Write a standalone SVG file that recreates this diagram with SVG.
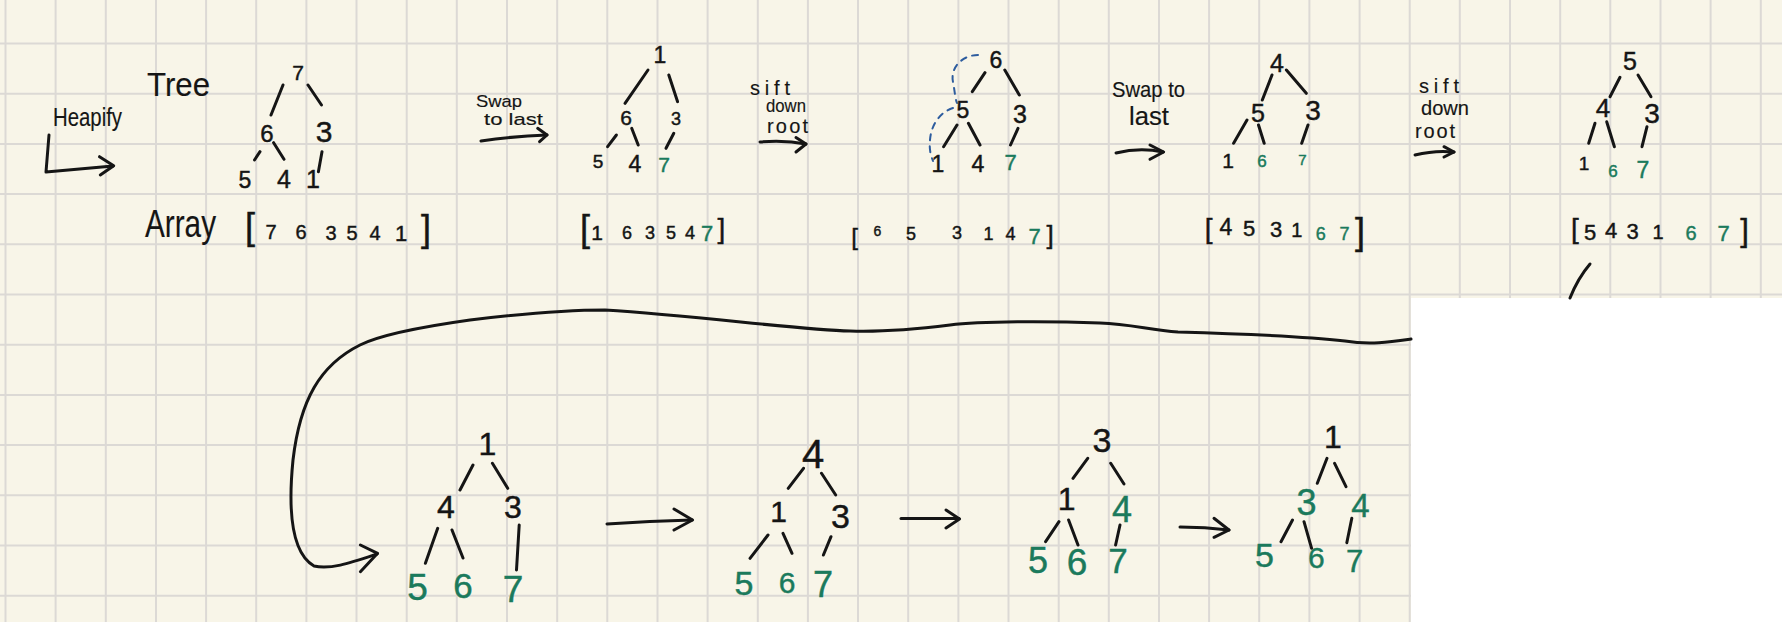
<svg xmlns="http://www.w3.org/2000/svg" width="1787" height="622" viewBox="0 0 1787 622">
<defs>
<style>
.bg{fill:#f8f5e8}
.grid line{stroke:#dcd9d5;stroke-width:2}
text{font-family:"Liberation Sans","DejaVu Sans",sans-serif;fill:#151515;stroke:#151515;stroke-width:0.45}
.lbl text{stroke-width:0.15}
.n{text-anchor:middle}
.g{fill:#1b7a5c;stroke:#1b7a5c}
.e{stroke:#151515;stroke-width:3;stroke-linecap:round;fill:none}
.c{stroke:#151515;stroke-width:3;stroke-linecap:round;stroke-linejoin:round;fill:none}
.d{stroke:#2d5c9e;stroke-width:2;stroke-dasharray:6 6;fill:none;stroke-linecap:round}
</style>
</defs>
<rect class="bg" x="0" y="0" width="1787" height="622"/>
<g class="grid">
<line x1="5.5" y1="0" x2="5.5" y2="622"/><line x1="55.6" y1="0" x2="55.6" y2="622"/><line x1="105.8" y1="0" x2="105.8" y2="622"/><line x1="156" y1="0" x2="156" y2="622"/><line x1="206.1" y1="0" x2="206.1" y2="622"/><line x1="256.2" y1="0" x2="256.2" y2="622"/><line x1="306.4" y1="0" x2="306.4" y2="622"/><line x1="356.5" y1="0" x2="356.5" y2="622"/><line x1="406.7" y1="0" x2="406.7" y2="622"/><line x1="456.8" y1="0" x2="456.8" y2="622"/><line x1="507" y1="0" x2="507" y2="622"/><line x1="557.2" y1="0" x2="557.2" y2="622"/><line x1="607.3" y1="0" x2="607.3" y2="622"/><line x1="657.5" y1="0" x2="657.5" y2="622"/><line x1="707.6" y1="0" x2="707.6" y2="622"/><line x1="757.8" y1="0" x2="757.8" y2="622"/><line x1="807.9" y1="0" x2="807.9" y2="622"/><line x1="858" y1="0" x2="858" y2="622"/><line x1="908.2" y1="0" x2="908.2" y2="622"/><line x1="958.4" y1="0" x2="958.4" y2="622"/><line x1="1008.5" y1="0" x2="1008.5" y2="622"/><line x1="1058.7" y1="0" x2="1058.7" y2="622"/><line x1="1108.8" y1="0" x2="1108.8" y2="622"/><line x1="1159" y1="0" x2="1159" y2="622"/><line x1="1209.1" y1="0" x2="1209.1" y2="622"/><line x1="1259.2" y1="0" x2="1259.2" y2="622"/><line x1="1309.4" y1="0" x2="1309.4" y2="622"/><line x1="1359.6" y1="0" x2="1359.6" y2="622"/><line x1="1409.7" y1="0" x2="1409.7" y2="622"/><line x1="1459.8" y1="0" x2="1459.8" y2="622"/><line x1="1510" y1="0" x2="1510" y2="622"/><line x1="1560.2" y1="0" x2="1560.2" y2="622"/><line x1="1610.3" y1="0" x2="1610.3" y2="622"/><line x1="1660.5" y1="0" x2="1660.5" y2="622"/><line x1="1710.6" y1="0" x2="1710.6" y2="622"/><line x1="1760.8" y1="0" x2="1760.8" y2="622"/>
<line x1="0" y1="43.5" x2="1787" y2="43.5"/><line x1="0" y1="93.7" x2="1787" y2="93.7"/><line x1="0" y1="143.9" x2="1787" y2="143.9"/><line x1="0" y1="194.1" x2="1787" y2="194.1"/><line x1="0" y1="244.3" x2="1787" y2="244.3"/><line x1="0" y1="294.5" x2="1787" y2="294.5"/><line x1="0" y1="344.7" x2="1787" y2="344.7"/><line x1="0" y1="394.9" x2="1787" y2="394.9"/><line x1="0" y1="445.1" x2="1787" y2="445.1"/><line x1="0" y1="495.3" x2="1787" y2="495.3"/><line x1="0" y1="545.5" x2="1787" y2="545.5"/><line x1="0" y1="595.7" x2="1787" y2="595.7"/>
</g>
<rect x="1411" y="298" width="376" height="324" fill="#ffffff"/>
<rect x="1782" y="0" width="5" height="298" fill="#ffffff"/>

<g id="connectors">
<path class="c" d="M49,135 L46,172 L113,166"/>
<path class="c" d="M99.5,156.7 L113.7,165.7 L100.3,175"/>
<path class="c" d="M481,141 Q515,136 547,135"/>
<path class="c" d="M537.7,128.3 L547,135 L539.6,141.7"/>
<path class="c" d="M760,142 Q785,140 806,144"/>
<path class="c" d="M796,137.5 L806,144 L796,152"/>
<path class="c" d="M1116,153 Q1140,147 1163,152"/>
<path class="c" d="M1150,145 L1163.6,152 L1150,159.3"/>
<path class="c" d="M1415,155 Q1435,150 1454,152"/>
<path class="c" d="M1444,146.7 L1454,152 L1444,157"/>
<path class="c" d="M1590,264 Q1578,278 1570,298"/>
<path class="c" d="M1411,339 C1390,342 1370,345 1345,341 C1300,336 1250,334 1178,332 C1150,330 1130,324 1100,323 C1050,321 980,321 950,325 C910,330 880,332 850,331 C800,330 700,316 605,310 C560,310 520,314 470,320 C420,327 380,335 360,345 C320,365 300,400 293,460 C287,520 295,555 314,566 C330,570 350,563 377,554"/>
<path class="c" d="M360.4,545 L377.6,553.3 L360.4,571.7"/>
<path class="c" d="M607,524 Q650,521 692,520"/>
<path class="c" d="M674,509 L692.5,520 L674,530"/>
<path class="c" d="M901,518.5 L959,518.5"/>
<path class="c" d="M946,510 L959.5,519 L946,528"/>
<path class="c" d="M1180,527 Q1205,527 1229,530"/>
<path class="c" d="M1214,518.3 L1229,530 L1214,537.3"/>
<path class="d" d="M978,55 C962,55 950,68 953,82 C955,92 955,98 957,103"/>
<path class="d" d="M953,108 C940,112 931,125 930,140 C929,150 931,156 933,161"/>
</g>

<g class="lbl">
<g id="label-heapify"><text x="53" y="126" font-size="25" textLength="69" lengthAdjust="spacingAndGlyphs">Heapify</text></g>
<g id="label-tree"><text x="147" y="96" font-size="34" textLength="63" lengthAdjust="spacingAndGlyphs">Tree</text></g>
<g id="label-array"><text x="145" y="237" font-size="38" textLength="71" lengthAdjust="spacingAndGlyphs">Array</text></g>
<g id="label-swap1"><text x="476" y="107" font-size="17" textLength="46" lengthAdjust="spacingAndGlyphs">Swap</text><text x="484" y="125" font-size="17" textLength="59" lengthAdjust="spacingAndGlyphs">to last</text></g>
<g id="label-sift1"><text x="750" y="95" font-size="20" textLength="40" lengthAdjust="spacing">sift</text><text x="766" y="112" font-size="18" textLength="40" lengthAdjust="spacingAndGlyphs">down</text><text x="767" y="133" font-size="20" textLength="41" lengthAdjust="spacing">root</text></g>
<g id="label-swap2"><text x="1112" y="97" font-size="22" textLength="73" lengthAdjust="spacingAndGlyphs">Swap to</text><text x="1129" y="125" font-size="26" textLength="40" lengthAdjust="spacingAndGlyphs">last</text></g>
<g id="label-sift2"><text x="1419" y="93" font-size="20" textLength="40" lengthAdjust="spacing">sift</text><text x="1421" y="115" font-size="20" textLength="48" lengthAdjust="spacingAndGlyphs">down</text><text x="1415" y="138" font-size="20" textLength="40" lengthAdjust="spacing">root</text></g>
</g>

<g id="tree1">
<path class="e" d="M283,85 L271,115 M308,85 L321.5,105 M260,151.7 L254.5,160 M273.6,142.7 L284,159.3 M322,151.7 L318.4,171.7"/>
<text class="n" x="298" y="80" font-size="21">7</text>
<text class="n" x="267" y="141.7" font-size="24">6</text>
<text class="n" x="324" y="141.7" font-size="30">3</text>
<text class="n" x="245" y="188" font-size="23">5</text>
<text class="n" x="284" y="188" font-size="25">4</text>
<text class="n" x="313" y="188" font-size="25">1</text>
</g>
<g id="array1">
<text class="n" x="250" y="239" font-size="36">[</text>
<text class="n" x="271" y="239" font-size="20">7</text>
<text class="n" x="301" y="239" font-size="20">6</text>
<text class="n" x="331" y="240" font-size="20">3</text>
<text class="n" x="352" y="240" font-size="20">5</text>
<text class="n" x="375" y="240" font-size="20">4</text>
<text class="n" x="401" y="241" font-size="22">1</text>
<text class="n" x="426" y="241" font-size="36">]</text>
</g>

<g id="tree2">
<path class="e" d="M648,70 L625,103.3 M668.8,75 L677.6,101.7 M616.4,135 L607.6,146.7 M631.7,128.3 L638.2,145 M673.8,133.3 L666,148.3"/>
<text class="n" x="660" y="63" font-size="23">1</text>
<text class="n" x="626" y="125" font-size="21">6</text>
<text class="n" x="676" y="125" font-size="18">3</text>
<text class="n" x="598" y="168" font-size="19">5</text>
<text class="n" x="635" y="171.7" font-size="23">4</text>
<text class="n g" x="664" y="171.7" font-size="21">7</text>
</g>
<g id="array2">
<text class="n" x="585" y="241" font-size="36">[</text>
<text class="n" x="597" y="240" font-size="21">1</text>
<text class="n" x="627" y="239" font-size="18">6</text>
<text class="n" x="650" y="239" font-size="18">3</text>
<text class="n" x="671" y="239" font-size="18">5</text>
<text class="n" x="690" y="239" font-size="18">4</text>
<text class="n g" x="707" y="241" font-size="22">7</text>
<text class="n" x="721.5" y="237.5" font-size="28">]</text>
</g>

<g id="tree3">
<path class="e" d="M985,72.7 L972.3,91.7 M1004.8,70 L1019.3,95 M957,125 L943.6,146.7 M968.4,123.3 L980,145 M1018,128.3 L1010.5,145"/>
<text class="n" x="996" y="68" font-size="23">6</text>
<text class="n" x="963" y="118" font-size="23">5</text>
<text class="n" x="1020" y="123" font-size="25">3</text>
<text class="n" x="938" y="171.7" font-size="23">1</text>
<text class="n" x="978" y="171.7" font-size="23">4</text>
<text class="n g" x="1010.5" y="170" font-size="22">7</text>
</g>
<g id="array3">
<text class="n" x="854.5" y="244.5" font-size="24">[</text>
<text class="n" x="877.5" y="236" font-size="14">6</text>
<text class="n" x="911" y="240" font-size="18">5</text>
<text class="n" x="957" y="239" font-size="18">3</text>
<text class="n" x="988.5" y="240" font-size="18">1</text>
<text class="n" x="1010.5" y="240" font-size="18">4</text>
<text class="n g" x="1034.5" y="244" font-size="22">7</text>
<text class="n" x="1050" y="244" font-size="26">]</text>
</g>

<g id="tree4">
<path class="e" d="M1272,75 L1262.3,100 M1286.4,70 L1306.3,93.3 M1247,120 L1233.6,143.3 M1258.5,125 L1264.2,143.3 M1308,125 L1301.7,143.3"/>
<text class="n" x="1277" y="71.7" font-size="25">4</text>
<text class="n" x="1258" y="121.7" font-size="25">5</text>
<text class="n" x="1313" y="120" font-size="28">3</text>
<text class="n" x="1228" y="168" font-size="21">1</text>
<text class="n g" x="1262" y="166.7" font-size="17">6</text>
<text class="n g" x="1302.5" y="165" font-size="15">7</text>
</g>
<g id="array4">
<text class="n" x="1208.7" y="237.5" font-size="28">[</text>
<text class="n" x="1226" y="235" font-size="23">4</text>
<text class="n" x="1249" y="236" font-size="22">5</text>
<text class="n" x="1276" y="237" font-size="22">3</text>
<text class="n" x="1296.7" y="237" font-size="20">1</text>
<text class="n g" x="1320.7" y="240" font-size="18">6</text>
<text class="n g" x="1344.5" y="240" font-size="18">7</text>
<text class="n" x="1360" y="244" font-size="36">]</text>
</g>

<g id="tree5">
<path class="e" d="M1620,77.3 L1610,96.7 M1638,75 L1651,96.7 M1595,123.3 L1588.7,143.3 M1606.7,121.7 L1614.4,146.7 M1647,126.7 L1642,146.7"/>
<text class="n" x="1630" y="70" font-size="25">5</text>
<text class="n" x="1603" y="116.7" font-size="26">4</text>
<text class="n" x="1652" y="123" font-size="28">3</text>
<text class="n" x="1584" y="170" font-size="19">1</text>
<text class="n g" x="1613" y="176.7" font-size="17">6</text>
<text class="n g" x="1643" y="178.3" font-size="23">7</text>
</g>
<g id="array5">
<text class="n" x="1575" y="238" font-size="28">[</text>
<text class="n" x="1590" y="240" font-size="22">5</text>
<text class="n" x="1611" y="238" font-size="22">4</text>
<text class="n" x="1632.5" y="239" font-size="22">3</text>
<text class="n" x="1658" y="239" font-size="20">1</text>
<text class="n g" x="1691" y="240" font-size="20">6</text>
<text class="n g" x="1723.5" y="241" font-size="22">7</text>
<text class="n" x="1744.5" y="241" font-size="31">]</text>
</g>

<g id="treeB1">
<path class="e" d="M473,465 L460,490 M492.4,463.3 L507.7,488.3 M437.7,528.3 L425.4,563.3 M452,530 L463,558 M519.2,525 L516.5,570"/>
<text class="n" x="487.5" y="455" font-size="32">1</text>
<text class="n" x="446" y="518" font-size="32">4</text>
<text class="n" x="513" y="518" font-size="32">3</text>
<text class="n g" x="417.5" y="600" font-size="37">5</text>
<text class="n g" x="463" y="598" font-size="35">6</text>
<text class="n g" x="513" y="601.7" font-size="37">7</text>
</g>
<g id="treeB2">
<path class="e" d="M803.5,468.3 L788.2,488.3 M821.5,473.3 L835.7,495 M768,535 L750,558.3 M783,533.3 L792,553.3 M831,536.7 L823.4,555"/>
<text class="n" x="813" y="468" font-size="40">4</text>
<text class="n" x="778.5" y="521.7" font-size="30">1</text>
<text class="n" x="840.5" y="528" font-size="34">3</text>
<text class="n g" x="744" y="595" font-size="34">5</text>
<text class="n g" x="787" y="593" font-size="30">6</text>
<text class="n g" x="823" y="596.7" font-size="36">7</text>
</g>
<g id="treeB3">
<path class="e" d="M1087.7,458.3 L1073,478.3 M1110.7,463.3 L1124,484 M1059,521.7 L1045.6,541.7 M1068.6,520 L1078,545 M1120,525 L1115.6,545"/>
<text class="n" x="1102" y="451.7" font-size="34">3</text>
<text class="n" x="1066.6" y="510" font-size="32">1</text>
<text class="n g" x="1122" y="521.7" font-size="36">4</text>
<text class="n g" x="1038" y="573.3" font-size="36">5</text>
<text class="n g" x="1077" y="575" font-size="37">6</text>
<text class="n g" x="1118" y="573.3" font-size="35">7</text>
</g>
<g id="treeB4">
<path class="e" d="M1327,458.3 L1317.3,483.3 M1334.6,463.3 L1346,486.7 M1292.5,520 L1281,541.7 M1304,521.7 L1311.6,548.3 M1351.8,518.3 L1346.8,542.7"/>
<text class="n" x="1333" y="448.3" font-size="32">1</text>
<text class="n g" x="1306.6" y="515" font-size="36">3</text>
<text class="n g" x="1360.5" y="516.7" font-size="33">4</text>
<text class="n g" x="1264.5" y="566.7" font-size="34">5</text>
<text class="n g" x="1316.3" y="568.3" font-size="30">6</text>
<text class="n g" x="1354.5" y="571.7" font-size="31">7</text>
</g>
</svg>
